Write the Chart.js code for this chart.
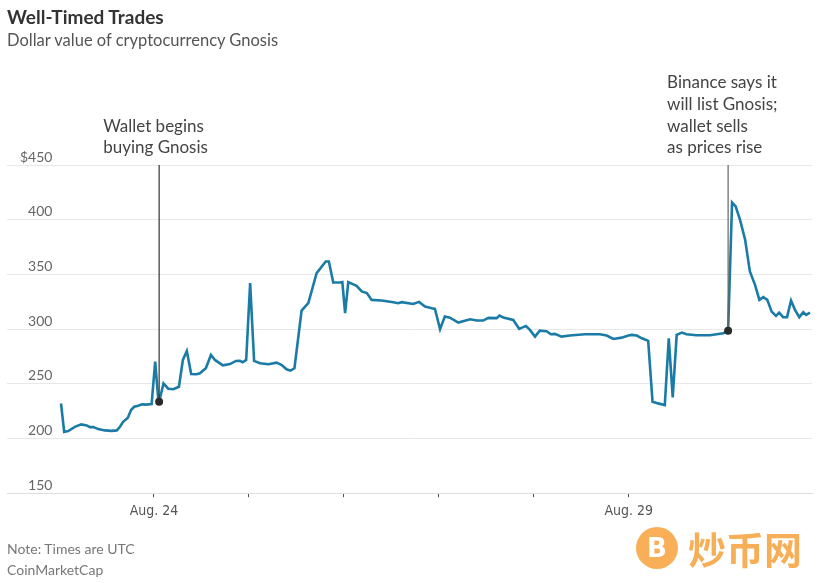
<!DOCTYPE html>
<html>
<head>
<meta charset="utf-8">
<script src="https://cdn.jsdelivr.net/npm/chart.js@4.4.1/dist/chart.umd.min.js"></script>
<style>
  html, body { margin: 0; padding: 0; background: #fff; }
  body { width: 822px; height: 583px; position: relative; overflow: hidden; font-family: Lato, "Noto Sans", sans-serif; }
  #wrap { position: absolute; left: 0; top: 0; width: 822px; height: 583px; }
  .title { position: absolute; left: 7px; top: 5px; font-size: 19px; font-weight: bold; color: #333; }
  .sub { position: absolute; left: 7px; top: 30px; font-size: 16.5px; color: #555; }
  .note { position: absolute; left: 7px; font-size: 14px; color: #777; }
  .wm { position: absolute; left: 636px; top: 524px; color: #f5a13a; opacity: 0.85; font-family: "Noto Sans CJK SC", sans-serif; }
  .wm .coin { position: absolute; left: 0; top: 3px; width: 42px; height: 42px; border-radius: 50%; background: #f7a23b; color: #fff; font: bold 26px "DejaVu Sans", sans-serif; text-align: center; line-height: 42px; }
  .wm .txt { position: absolute; left: 52px; top: -4px; font-size: 38px; font-weight: bold; white-space: nowrap; }
</style>
</head>
<body>
<div id="wrap"><canvas id="gnosis" width="822" height="583"></canvas></div>
<div class="title">Well-Timed Trades</div>
<div class="sub">Dollar value of cryptocurrency Gnosis</div>
<div class="note" style="top:540px">Note: Times are UTC</div>
<div class="note" style="top:561px">CoinMarketCap</div>
<div class="wm"><div class="coin">B</div><div class="txt">炒币网</div></div>
<script>
// hours since Aug. 23 00:00 UTC
const hours = [0.5, 1.3, 2.3, 4.0, 5.6, 7.0, 7.8, 8.7, 9.9, 11.6, 13.3, 14.6, 15.4, 16.2, 17.4, 18.2, 19.0, 20.0, 21.0, 21.9,
  23.4, 24.3, 25.1, 25.3, 26.4, 27.6, 28.9, 30.3, 31.3, 32.3, 33.4, 34.8, 35.6, 37.1, 38.4, 39.4, 41.4, 43.2, 44.7, 45.7,
  46.4, 47.3, 48.3, 49.3, 50.8, 52.9, 55.0, 56.3, 57.5, 58.5, 59.5, 61.3, 63.0, 65.1, 67.4, 68.2, 69.3, 71.0, 71.6, 72.3,
  73.1, 75.2, 76.5, 77.8, 79.0, 81.5, 84.5, 85.7, 86.6, 89.5, 91.0, 92.5, 94.2, 95.0, 96.3, 97.5, 98.8, 100.9, 103.9, 105.6,
  107.2, 108.5, 110.6, 111.3, 112.3, 114.8, 116.3, 118.0, 119.0, 120.3, 121.5, 123.2, 124.3, 125.3, 127.0, 129.1, 132.9, 136.7, 138.4, 140.1,
  142.2, 143.9, 144.7, 146.0, 147.3, 148.9, 150.0, 151.4, 153.1, 154.1, 155.1, 156.1, 157.4, 158.6, 161.1, 164.5, 166.6, 167.9, 169.1, 170.1,
  171.0, 172.1, 173.4, 174.6, 175.9, 177.0, 178.0, 179.0, 180.1, 181.2, 182.0, 183.0, 184.0, 185.0, 186.0, 187.1, 188.1, 188.8, 189.8];
const prices = [232, 206, 206.8, 210.7, 212.9, 212, 210.4, 210.4, 208.6, 207.4, 207, 207.4, 210.7, 215.3, 219, 226, 229, 230, 231.2, 231,
  231.5, 270.2, 235, 233.6, 250.4, 245.5, 245, 247.3, 271.8, 280, 259, 258.7, 259.6, 264.2, 276.4, 271.8, 266.9, 268, 270.9, 271,
  269.7, 271.8, 342, 270.9, 268.8, 267.9, 269.3, 267.2, 263.3, 262, 264.2, 317, 323.7, 351.2, 361.8, 361.8, 342.6, 342.6, 343, 314.6,
  343, 339.6, 334.4, 332.9, 326.7, 326.1, 324.6, 323.7, 324.6, 323, 324.9, 320.6, 319.1, 318.5, 299.9, 311.5, 310.5, 306, 309, 307.8,
  307.8, 310.3, 310, 312.4, 310.5, 308.4, 300.2, 302.9, 299.3, 293.1, 298.6, 298, 295.3, 295.6, 293.1, 294.1, 295.3, 295.3, 294.1, 291,
  292.2, 294.1, 294.7, 294.1, 291.6, 289.2, 233.6, 232.1, 230.6, 291.6, 237.6, 294.7, 296.8, 295.3, 294.4, 294.4, 295.6, 296.2, 298.6, 415.8,
  412.2, 400, 381.7, 352.7, 340.5, 326.7, 329.2, 326.7, 316, 312, 315.1, 310.9, 310.9, 326.1, 317.6, 310.9, 315.5, 313, 315.1];

const dayTicks = [24, 48, 72, 96, 120, 144];
const dayLabels = ['Aug. 24', '', '', '', '', 'Aug. 29'];
const priceTicks = [150, 200, 250, 300, 350, 400, 450];

const noteHours = [25.3, 169.1];
const noteTexts = [
  ['Wallet begins', 'buying Gnosis'],
  ['Binance says it', 'will list Gnosis;', 'wallet sells', 'as prices rise']
];

const lineColor = '#1a7ca6';

const notesPlugin = {
  id: 'notes',
  afterDatasetsDraw(chart) {
    const { ctx, chartArea, scales } = chart;
    const offsets = [-56, -61];
    ctx.save();
    noteHours.forEach((h, i) => {
      const idx = hours.indexOf(h);
      const px = scales.x.getPixelForValue(h);
      const py = scales.y.getPixelForValue(prices[idx]);
      ctx.strokeStyle = i === 0 ? '#333' : '#666';
      ctx.lineWidth = 1.2;
      ctx.beginPath();
      ctx.moveTo(px, chartArea.top);
      ctx.lineTo(px, py);
      ctx.stroke();
      ctx.fillStyle = '#2b2b2b';
      ctx.beginPath();
      ctx.arc(px, py, 4, 0, Math.PI * 2);
      ctx.fill();
      ctx.font = '17px Lato, "Noto Sans", sans-serif';
      ctx.fillStyle = '#444';
      ctx.textAlign = 'left';
      ctx.textBaseline = 'middle';
      const lines = noteTexts[i];
      lines.forEach((t, k) => {
        const y = chartArea.top - 17 - (lines.length - 1 - k) * 21.7;
        ctx.fillText(t, px + offsets[i], y);
      });
    });
    ctx.restore();
  }
};

const ctx = document.getElementById('gnosis').getContext('2d');
new Chart(ctx, {
  type: 'line',
  data: {
    datasets: [{
      data: hours.map((h, i) => ({ x: h, y: prices[i] })),
      borderColor: lineColor,
      borderWidth: 2.6,
      pointRadius: 0,
      tension: 0,
      fill: false
    }]
  },
  options: {
    responsive: false,
    animation: false,
    layout: { padding: { left: 7, right: 10, top: 165, bottom: 57 } },
    plugins: { legend: { display: false }, tooltip: { enabled: false } },
    scales: {
      x: {
        type: 'linear',
        min: -13.15,
        max: 190.3,
        afterBuildTicks: (axis) => { axis.ticks = dayTicks.map(v => ({ value: v })); },
        ticks: {
          autoSkip: false,
          maxRotation: 0,
          padding: 6,
          color: '#555',
          font: { family: '"Liberation Sans Narrow", "DejaVu Sans Condensed", Roboto, sans-serif', size: 14 },
          callback: (v) => dayLabels[dayTicks.indexOf(v)] || ''
        },
        grid: { drawOnChartArea: false, drawTicks: true, tickLength: 4, tickColor: '#555', tickWidth: 1 },
        border: { display: true, color: '#dedede', width: 1 }
      },
      y: {
        min: 150,
        max: 450,
        afterBuildTicks: (axis) => { axis.ticks = priceTicks.map(v => ({ value: v })); },
        afterFit: (axis) => { axis.width = 0; },
        ticks: {
          mirror: true,
          crossAlign: 'far',
          padding: 13,
          labelOffset: -8,
          color: '#666',
          font: { family: 'Lato, "Noto Sans", sans-serif', size: 14 },
          callback: (v) => v === 450 ? '$450' : String(v)
        },
        grid: { color: '#e8e8e8', lineWidth: 1, drawTicks: false },
        border: { display: false }
      }
    }
  },
  plugins: [notesPlugin]
});
</script>
</body>
</html>
